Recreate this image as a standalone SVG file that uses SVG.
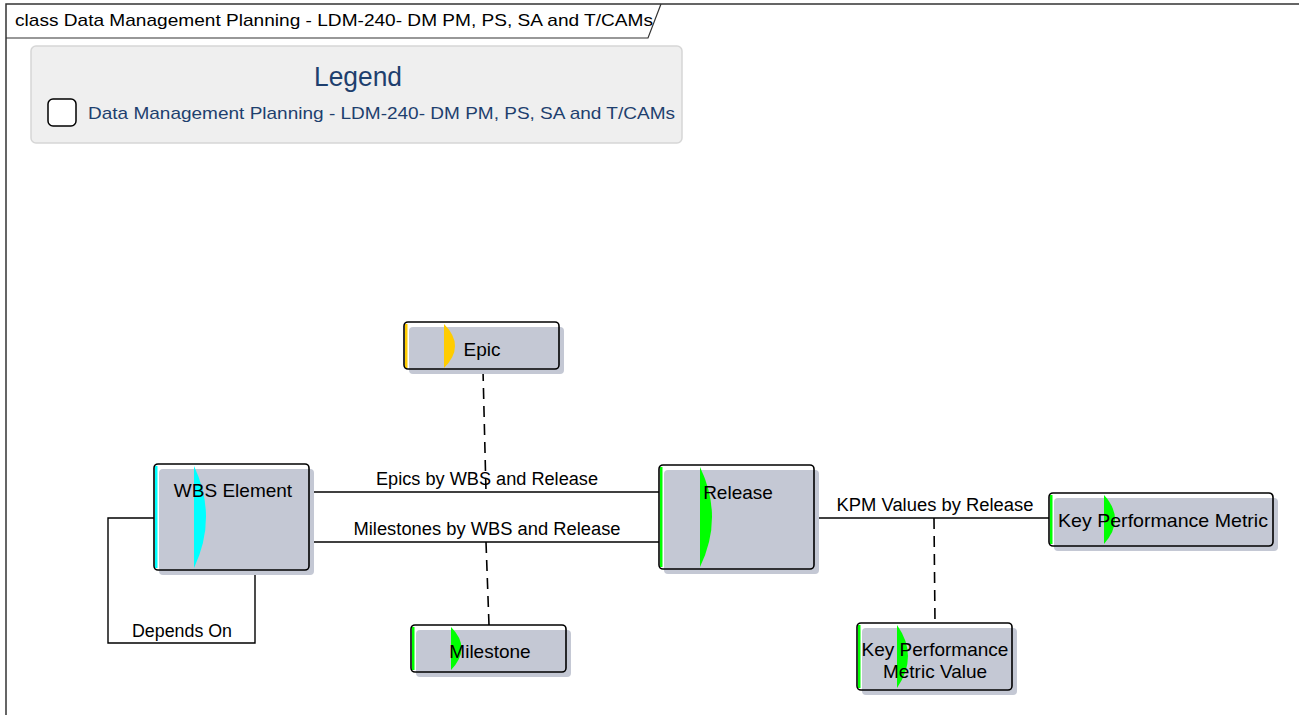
<svg xmlns="http://www.w3.org/2000/svg" width="1299" height="715" viewBox="0 0 1299 715">
<defs>
<style>
text{font-family:"Liberation Sans",Arial,sans-serif;fill:#000}
.nt{font-size:19px;text-anchor:middle}
.lbl{font-size:18px;text-anchor:middle}
.bg{fill:#fff}
.gr{fill:#c4c8d4}
.bd{fill:none;stroke:#000;stroke-width:1.6}
.ln{fill:none;stroke:#000;stroke-width:1.4}
.dash{fill:none;stroke:#000;stroke-width:1.6;stroke-dasharray:11,7}
</style>
</defs>
<rect width="1299" height="715" fill="#fff"/>
<g id="frame">
<path d="M6,715 V4 H1299" fill="none" stroke="#333" stroke-width="1.5"/>
<path d="M6,38 H648 L661,4" fill="none" stroke="#333" stroke-width="1.2"/>
<text x="15" y="26" font-size="17" textLength="638" lengthAdjust="spacingAndGlyphs">class Data Management Planning - LDM-240- DM PM, PS, SA and T/CAMs</text>
</g>
<g id="legend">
<rect x="31" y="46" width="651" height="97" rx="5" fill="#efefef" stroke="#d6d6d6" stroke-width="1.5"/>
<text x="358" y="86" font-size="27" text-anchor="middle" style="fill:#1e3f6e" textLength="88" lengthAdjust="spacingAndGlyphs">Legend</text>
<rect x="48" y="99" width="28" height="27" rx="5" fill="#fff" stroke="#000" stroke-width="1.5"/>
<text x="88" y="119" font-size="17" style="fill:#1e3f6e" textLength="587" lengthAdjust="spacingAndGlyphs">Data Management Planning - LDM-240- DM PM, PS, SA and T/CAMs</text>
</g>
<g id="connectors">
<line class="ln" x1="309" y1="492" x2="659" y2="492"/>
<text class="lbl" x="487" y="485" textLength="222" lengthAdjust="spacingAndGlyphs">Epics by WBS and Release</text>
<line class="ln" x1="309" y1="542" x2="659" y2="542"/>
<text class="lbl" x="487" y="535" textLength="267" lengthAdjust="spacingAndGlyphs">Milestones by WBS and Release</text>
<path class="dash" d="M483,370 L486,492"/>
<path class="dash" d="M486,542 L489,625"/>
<line class="ln" x1="814" y1="518" x2="1049" y2="518"/>
<text class="lbl" x="935" y="511" textLength="197" lengthAdjust="spacingAndGlyphs">KPM Values by Release</text>
<path class="dash" d="M934,518 L935,623"/>
<path class="ln" d="M154,518 H108 V643 H255 V570"/>
<text class="lbl" x="182" y="637" textLength="100" lengthAdjust="spacingAndGlyphs">Depends On</text>
</g>
<g id="epic">
<rect class="bg" x="404" y="322" width="155" height="47" rx="4"/>
<rect class="gr" x="409" y="327" width="155" height="47" rx="4"/>
<rect x="405" y="324" width="2.5" height="44" fill="#ffcc00"/>
<path d="M444,324 Q466,346 444,368 Z" fill="#ffcc00"/>
<rect class="bd" x="404" y="322" width="155" height="47" rx="4"/>
<text class="nt" x="482" y="356">Epic</text>
</g>
<g id="wbs">
<rect class="bg" x="154" y="464" width="155" height="106" rx="4"/>
<rect class="gr" x="159" y="469" width="155" height="106" rx="4"/>
<rect x="155" y="466" width="2.5" height="102" fill="#00ffff"/>
<path d="M194,466 Q218,517 194,568 Z" fill="#00ffff"/>
<rect class="bd" x="154" y="464" width="155" height="106" rx="4"/>
<text class="nt" x="233" y="497">WBS Element</text>
</g>
<g id="release">
<rect class="bg" x="659" y="465" width="155" height="104" rx="4"/>
<rect class="gr" x="664" y="470" width="155" height="104" rx="4"/>
<rect x="660" y="467" width="2.5" height="100" fill="#00ff00"/>
<path d="M700,467 Q724,517 700,567 Z" fill="#00ff00"/>
<rect class="bd" x="659" y="465" width="155" height="104" rx="4"/>
<text class="nt" x="738" y="499">Release</text>
</g>
<g id="milestone">
<rect class="bg" x="411" y="625" width="155" height="47" rx="4"/>
<rect class="gr" x="416" y="630" width="155" height="47" rx="4"/>
<rect x="412" y="627" width="2.5" height="43" fill="#00ff00"/>
<path d="M451,627 Q472,648 451,670 Z" fill="#00ff00"/>
<rect class="bd" x="411" y="625" width="155" height="47" rx="4"/>
<text class="nt" x="490" y="658">Milestone</text>
</g>
<g id="kpm">
<rect class="bg" x="1049" y="493" width="224" height="53" rx="4"/>
<rect class="gr" x="1054" y="498" width="224" height="53" rx="4"/>
<rect x="1050" y="495" width="2.5" height="49" fill="#00ff00"/>
<path d="M1104,495 Q1126,519 1104,544 Z" fill="#00ff00"/>
<rect class="bd" x="1049" y="493" width="224" height="53" rx="4"/>
<text class="nt" x="1163" y="527" textLength="210" lengthAdjust="spacingAndGlyphs">Key Performance Metric</text>
</g>
<g id="kpmv">
<rect class="bg" x="857" y="623" width="155" height="67" rx="4"/>
<rect class="gr" x="862" y="628" width="155" height="67" rx="4"/>
<rect x="858" y="625" width="2.5" height="63" fill="#00ff00"/>
<path d="M897,625 Q919,656 897,688 Z" fill="#00ff00"/>
<rect class="bd" x="857" y="623" width="155" height="67" rx="4"/>
<text class="nt" x="935" y="656">Key Performance</text>
<text class="nt" x="935" y="678">Metric Value</text>
</g>
</svg>
